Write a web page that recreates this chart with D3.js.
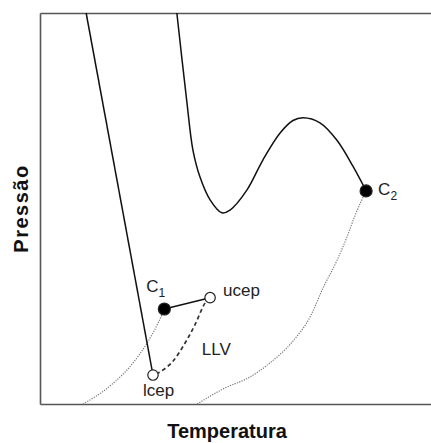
<!DOCTYPE html>
<html>
<head>
<meta charset="utf-8">
<script src="https://cdn.jsdelivr.net/npm/d3@7"></script>
<style>
  body { margin: 0; background: #fff; }
  svg { display: block; font-family: Arial, "Liberation Sans", sans-serif; }
  .frame path { stroke: #555; stroke-width: 1.6; }
  .title { font-weight: bold; font-size: 20px; fill: #111; }
  .lbl { font-size: 17px; fill: #222; }
</style>
</head>
<body>
<svg class="pt-diagram" width="431" height="443"></svg>
<script>
// values, abstract units 0-100 (temperature, pressure)
var pureLine = [[11.8, 100], [28.9, 7.4]];
var criticalLine = [[35.0, 100], [37.5, 77.8], [39.1, 65.0], [40.9, 58.1], [43.5, 52.2],
  [46.5, 48.9], [48.6, 49.6], [52.9, 54.7], [57.0, 62.4], [61.4, 69.3], [64.7, 72.5],
  [67.3, 73.2], [71.6, 71.9], [75.9, 67.5], [80.1, 60.7], [83.4, 54.5]];
var vaporCurve1 = [[11.0, 0], [17.9, 4.6], [23.8, 10.5], [27.4, 15.6], [30.2, 20.7], [31.8, 24.3]];
var vaporCurve2 = [[40.2, 0], [47.3, 4.1], [53.7, 6.9], [58.8, 10.5], [64.7, 16.1], [69.1, 22.3],
  [72.4, 29.7], [76.0, 36.8], [78.5, 42.7], [80.6, 48.3], [83.4, 54.5]];
var llvLine = [[43.5, 27.1], [42.2, 25.8], [39.6, 20.2], [37.1, 15.6], [33.8, 10.7], [30.7, 8.2], [28.9, 7.4]];
var c1Segment = [[31.8, 24.3], [43.5, 27.2]];
var points = [
  {name: 'C', sub: '1', t: 31.8, p: 24.3, filled: true},
  {name: 'C', sub: '2', t: 83.4, p: 54.5, filled: true},
  {name: 'ucep', sub: '', t: 43.5, p: 27.2, filled: false},
  {name: 'lcep', sub: '', t: 28.9, p: 7.4, filled: false}
];

var svg = d3.select('svg.pt-diagram');
var padding = {t: 13, r: 0, b: 39, l: 40};
var width = +svg.attr('width'), height = +svg.attr('height');

var xScale = d3.scaleLinear().domain([0, 100]).range([padding.l, width - padding.r]);
var yScale = d3.scaleLinear().domain([0, 100]).range([height - padding.b, padding.t]);

// frame: left, top, bottom only (no ticks)
svg.append('g').attr('class', 'frame')
  .attr('transform', 'translate(0,' + yScale(0) + ')')
  .call(d3.axisBottom(xScale).tickValues([]).tickSizeOuter(0));
svg.append('g').attr('class', 'frame')
  .attr('transform', 'translate(0,' + yScale(100) + ')')
  .call(d3.axisTop(xScale).tickValues([]).tickSizeOuter(0));
svg.append('g').attr('class', 'frame')
  .attr('transform', 'translate(' + xScale(0) + ',0)')
  .call(d3.axisLeft(yScale).tickValues([]).tickSizeOuter(0));

var line = d3.line()
  .x(function(d) { return xScale(d[0]); })
  .y(function(d) { return yScale(d[1]); });
var smooth = d3.line()
  .x(function(d) { return xScale(d[0]); })
  .y(function(d) { return yScale(d[1]); })
  .curve(d3.curveCatmullRom);
var monotone = d3.line()
  .x(function(d) { return xScale(d[0]); })
  .y(function(d) { return yScale(d[1]); })
  .curve(d3.curveMonotoneX);

// dotted vapor pressure curves
[vaporCurve1, vaporCurve2].forEach(function(c) {
  svg.append('path').datum(c).attr('d', monotone)
    .attr('fill', 'none').attr('stroke', '#777')
    .attr('stroke-width', 1.2).attr('stroke-dasharray', '1.2,1.3');
});

svg.append('path').datum(pureLine).attr('d', line)
  .attr('fill', 'none').attr('stroke', '#111').attr('stroke-width', 1.5);
svg.append('path').datum(criticalLine).attr('d', smooth)
  .attr('fill', 'none').attr('stroke', '#111').attr('stroke-width', 1.5);
svg.append('path').datum(c1Segment).attr('d', line)
  .attr('fill', 'none').attr('stroke', '#111').attr('stroke-width', 1.5);
svg.append('path').datum(llvLine).attr('d', smooth)
  .attr('fill', 'none').attr('stroke', '#333').attr('stroke-width', 1.7)
  .attr('stroke-dasharray', '4,3');

// critical / end points
svg.selectAll('.pt').data(points).enter().append('circle')
  .attr('class', 'pt')
  .attr('cx', function(d) { return xScale(d.t); })
  .attr('cy', function(d) { return yScale(d.p); })
  .attr('r', function(d) { return d.filled ? 6 : 5.2; })
  .attr('fill', function(d) { return d.filled ? '#000' : '#fff'; })
  .attr('stroke', '#222').attr('stroke-width', 1.2);

// point labels
var offsets = {'C1': [-18, -17], 'C2': [12, 4], 'ucep': [13, -2], 'lcep': [-10, 21]};
var labels = svg.selectAll('.lbl').data(points).enter().append('text')
  .attr('class', 'lbl')
  .attr('x', function(d) { return xScale(d.t) + offsets[d.name + d.sub][0]; })
  .attr('y', function(d) { return yScale(d.p) + offsets[d.name + d.sub][1]; })
  .text(function(d) { return d.name; });
labels.filter(function(d) { return d.sub; })
  .append('tspan').attr('dy', 5).attr('font-size', '12px')
  .text(function(d) { return d.sub; });

svg.append('text').attr('class', 'lbl')
  .attr('x', xScale(41.4)).attr('y', yScale(12.5)).text('LLV');

// axis titles
svg.append('text').attr('class', 'title')
  .attr('text-anchor', 'middle')
  .attr('x', 227).attr('y', height - 5)
  .text('Temperatura');
svg.append('text').attr('class', 'title')
  .attr('text-anchor', 'middle')
  .attr('letter-spacing', '1.5px')
  .attr('transform', 'translate(28,' + yScale(50) + ') rotate(-90)')
  .text('Pressão');
</script>
</body>
</html>
